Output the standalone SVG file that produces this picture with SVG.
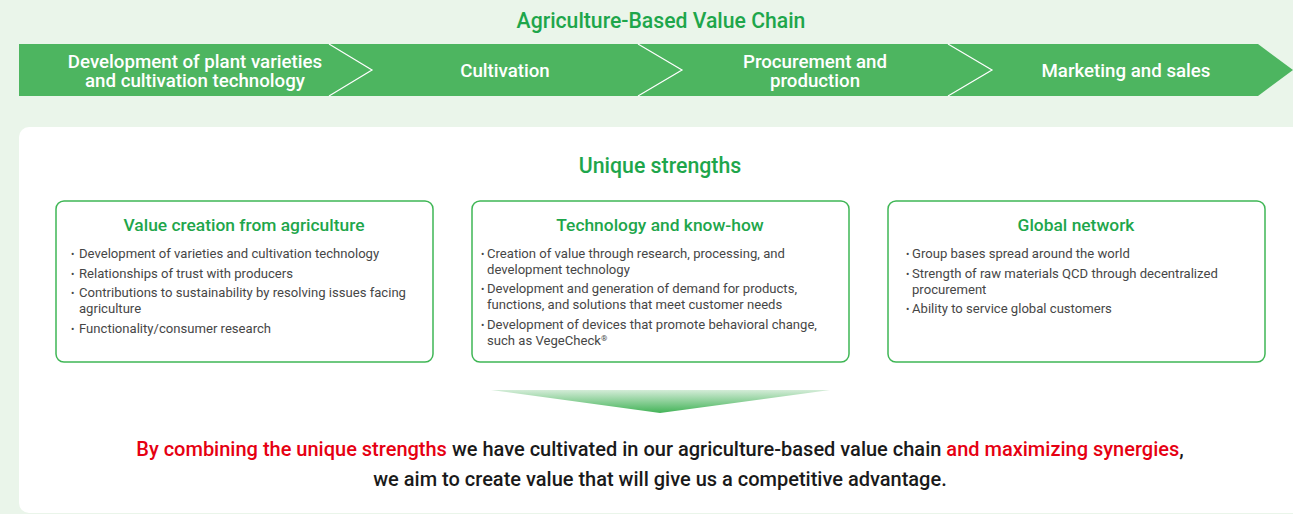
<svg xmlns="http://www.w3.org/2000/svg" width="1293" height="514" viewBox="0 0 1293 514">
  <defs>
    <linearGradient id="funnel" x1="0" y1="0" x2="0" y2="1">
      <stop offset="0" stop-color="#d3ecd7"/>
      <stop offset="1" stop-color="#43b358"/>
    </linearGradient>
    <style>
      text { font-family: Roboto, "Liberation Sans", sans-serif; }
      .chain-title { font-size: 21.2px; font-weight: 500; fill: #1ea64b; text-anchor: middle; }
      .stage { font-size: 18.7px; font-weight: 500; fill: #ffffff; text-anchor: middle; }
      .chev { fill: none; stroke: #ffffff; stroke-width: 1.2; }
      .section { font-size: 21.3px; font-weight: 500; fill: #1ea64b; text-anchor: middle; }
      .card { fill: #ffffff; stroke: #3fb655; stroke-width: 1.5; }
      .card-title { font-size: 17.4px; font-weight: 500; fill: #1ea64b; text-anchor: middle; }
      .item { font-size: 13.1px; fill: #464646; }
      .dot { font-size: 10px; fill: #464646; }
      .msg { font-size: 20px; font-weight: 500; text-anchor: middle; fill: #1a1a1a; }
      .red { fill: #e60012; }
    </style>
  </defs>

  <!-- page background -->
  <rect x="0" y="0" width="1293" height="514" fill="#eaf5ea"/>

  <!-- value chain band -->
  <g id="value-chain">
    <text class="chain-title" x="661" y="28">Agriculture-Based Value Chain</text>
    <polygon points="19,44 1258,44 1293,70 1258,96 19,96" fill="#4db560"/>
    <polyline class="chev" points="329,44 372,70 329,96"/>
    <polyline class="chev" points="638,44 682,70 638,96"/>
    <polyline class="chev" points="948,44 992,70 948,96"/>
  </g>
  <g id="stage-development">
    <text class="stage"><tspan x="195" y="68">Development of plant varieties</tspan><tspan x="195" y="87">and cultivation technology</tspan></text>
  </g>
  <g id="stage-cultivation">
    <text class="stage" x="505" y="77">Cultivation</text>
  </g>
  <g id="stage-procurement">
    <text class="stage"><tspan x="815" y="68">Procurement and</tspan><tspan x="815" y="87">production</tspan></text>
  </g>
  <g id="stage-marketing">
    <text class="stage" x="1126" y="77">Marketing and sales</text>
  </g>

  <!-- strengths panel -->
  <rect x="19" y="127" width="1300" height="386" rx="10" fill="#ffffff"/>
  <text class="section" x="660" y="173">Unique strengths</text>

  <g id="card-agriculture">
    <rect class="card" x="56" y="201" width="377" height="161" rx="8"/>
    <text class="card-title" x="244" y="231">Value creation from agriculture</text>
    <text class="dot" x="71" y="258">•</text>
    <text class="item" x="79" y="258">Development of varieties and cultivation technology</text>
    <text class="dot" x="71" y="278">•</text>
    <text class="item" x="79" y="278">Relationships of trust with producers</text>
    <text class="dot" x="71" y="297">•</text>
    <text class="item" x="79" y="297">Contributions to sustainability by resolving issues facing</text>
    <text class="item" x="79" y="313">agriculture</text>
    <text class="dot" x="71" y="333">•</text>
    <text class="item" x="79" y="333">Functionality/consumer research</text>
  </g>

  <g id="card-technology">
    <rect class="card" x="472" y="201" width="377" height="161" rx="8"/>
    <text class="card-title" x="660" y="231">Technology and know-how</text>
    <text class="dot" x="481" y="258">•</text>
    <text class="item" x="487" y="258">Creation of value through research, processing, and</text>
    <text class="item" x="487" y="274">development technology</text>
    <text class="dot" x="481" y="293">•</text>
    <text class="item" x="487" y="293">Development and generation of demand for products,</text>
    <text class="item" x="487" y="309">functions, and solutions that meet customer needs</text>
    <text class="dot" x="481" y="329">•</text>
    <text class="item" x="487" y="329">Development of devices that promote behavioral change,</text>
    <text class="item" x="487" y="345">such as VegeCheck<tspan font-size="8" dy="-4">®</tspan></text>
  </g>

  <g id="card-global">
    <rect class="card" x="888" y="201" width="377" height="161" rx="8"/>
    <text class="card-title" x="1076" y="231">Global network</text>
    <text class="dot" x="906" y="258">•</text>
    <text class="item" x="912" y="258">Group bases spread around the world</text>
    <text class="dot" x="906" y="278">•</text>
    <text class="item" x="912" y="278">Strength of raw materials QCD through decentralized</text>
    <text class="item" x="912" y="294">procurement</text>
    <text class="dot" x="906" y="313">•</text>
    <text class="item" x="912" y="313">Ability to service global customers</text>
  </g>

  <!-- convergence wedge -->
  <g id="funnel-arrow">
    <polygon points="491,390 830,390 660,413" fill="url(#funnel)"/>
  </g>

  <g id="conclusion">
    <text class="msg" x="660" y="456"><tspan class="red">By combining the unique strengths</tspan> we have cultivated in our agriculture-based value chain <tspan class="red">and maximizing synergies</tspan>,</text>
    <text class="msg" x="660" y="486">we aim to create value that will give us a competitive advantage.</text>
  </g>
</svg>
